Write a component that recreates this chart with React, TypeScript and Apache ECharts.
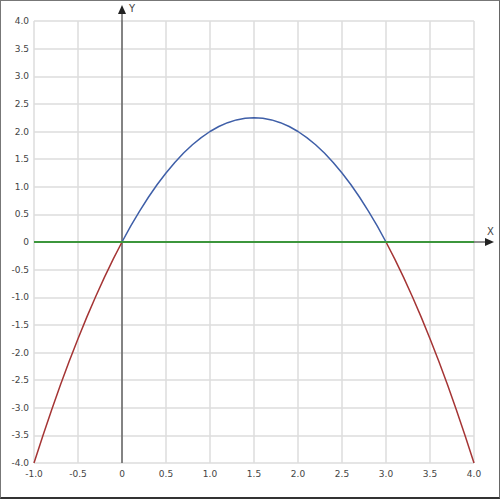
import { useEffect, useRef } from "react";
import * as echarts from "echarts";

const BLUE = "#3f5fa8";
const RED = "#a53535";
const GREEN = "#3c963c";
const GRID = "#dddddd";

const LEFT_X = [-1, -0.9, -0.8, -0.7, -0.6, -0.5, -0.4, -0.3, -0.2, -0.1, 0];
const LEFT_Y = [-4, -3.51, -3.04, -2.59, -2.16, -1.75, -1.36, -0.99, -0.64, -0.31, 0];
const MID_X = [0, 0.1, 0.2, 0.3, 0.4, 0.5, 0.6, 0.7, 0.8, 0.9, 1, 1.1, 1.2, 1.3, 1.4, 1.5,
  1.6, 1.7, 1.8, 1.9, 2, 2.1, 2.2, 2.3, 2.4, 2.5, 2.6, 2.7, 2.8, 2.9, 3];
const MID_Y = [0, 0.29, 0.56, 0.81, 1.04, 1.25, 1.44, 1.61, 1.76, 1.89, 2, 2.09, 2.16, 2.21, 2.24, 2.25,
  2.24, 2.21, 2.16, 2.09, 2, 1.89, 1.76, 1.61, 1.44, 1.25, 1.04, 0.81, 0.56, 0.29, 0];
const RIGHT_X = [3, 3.1, 3.2, 3.3, 3.4, 3.5, 3.6, 3.7, 3.8, 3.9, 4];
const RIGHT_Y = [0, -0.31, -0.64, -0.99, -1.36, -1.75, -2.16, -2.59, -3.04, -3.51, -4];
const ZERO_X = [-1, 4];
const ZERO_Y = [0, 0];

const X_MIN = -1, X_MAX = 4, Y_MIN = -4, Y_MAX = 4, STEP = 0.5;

const zip = (xs: number[], ys: number[]) => xs.map((x, i) => [x, ys[i]]);
const fmt = (v: number) => (v === 0 ? "0" : v.toFixed(1));

export default function App() {
  const ref = useRef<HTMLDivElement>(null);

  useEffect(() => {
    if (!ref.current) return;
    const inst = echarts.init(ref.current, undefined, { renderer: "svg" });
    const curve = (data: number[][], color: string) => ({
      type: "line", data, smooth: false, showSymbol: false, symbol: "none",
      lineStyle: { color, width: 1.5 }, z: 3,
    });
    inst.setOption({
      animation: false,
      backgroundColor: "#fff",
      grid: { left: 34, right: 26, top: 21, bottom: 36 },
      xAxis: {
        type: "value", min: X_MIN, max: X_MAX, interval: STEP,
        axisLine: { show: false }, axisTick: { show: false },
        axisLabel: { color: "#444", fontSize: 9, fontFamily: "DejaVu Sans", margin: 6, formatter: fmt, showMinLabel: true, showMaxLabel: true },
        splitLine: { lineStyle: { color: GRID, width: 1.5 } },
      },
      yAxis: {
        type: "value", min: Y_MIN, max: Y_MAX, interval: STEP,
        axisLine: { show: false }, axisTick: { show: false },
        axisLabel: { color: "#444", fontSize: 9, fontFamily: "DejaVu Sans", margin: 5, formatter: fmt, showMinLabel: true, showMaxLabel: true },
        splitLine: { lineStyle: { color: GRID, width: 1.5 } },
      },
      series: [
        curve(zip(LEFT_X, LEFT_Y), RED),
        curve(zip(MID_X, MID_Y), BLUE),
        curve(zip(RIGHT_X, RIGHT_Y), RED),
        { type: "line", data: zip(ZERO_X, ZERO_Y), showSymbol: false, symbol: "none", lineStyle: { color: GREEN, width: 2 }, z: 4 },
      ],
    });

    // axes through the origin, with arrows running past the plot
    const [ox, oy] = inst.convertToPixel({ gridIndex: 0 }, [0, 0]) as number[];
    const [lx, by] = inst.convertToPixel({ gridIndex: 0 }, [X_MIN, Y_MIN]) as number[];
    const [rx, ty] = inst.convertToPixel({ gridIndex: 0 }, [X_MAX, Y_MAX]) as number[];
    const ax = "#222";
    const yTip = ty - 16, xTip = rx + 20;
    inst.setOption({
      graphic: [
        { type: "line", z: 2, shape: { x1: ox, y1: by, x2: ox, y2: yTip + 6 }, style: { stroke: ax, lineWidth: 1 } },
        { type: "polygon", z: 2, shape: { points: [[ox, yTip], [ox - 4, yTip + 9], [ox + 4, yTip + 9]] }, style: { fill: ax } },
        { type: "line", z: 1, shape: { x1: lx, y1: oy, x2: xTip - 6, y2: oy }, style: { stroke: ax, lineWidth: 1 } },
        { type: "polygon", z: 2, shape: { points: [[xTip, oy], [xTip - 9, oy - 4], [xTip - 9, oy + 4]] }, style: { fill: ax } },
        { type: "text", z: 2, x: ox + 7, y: yTip - 2, style: { text: "Y", fill: "#444", font: "10px DejaVu Sans" } },
        { type: "text", z: 2, x: xTip - 7, y: oy - 16, style: { text: "X", fill: "#444", font: "10px DejaVu Sans" } },
      ],
    });
    return () => inst.dispose();
  }, []);

  return (
    <div style={{ position: "fixed", left: 0, top: 0, width: 500, height: 499, background: "#fff" }}>
      <div ref={ref} style={{ width: 500, height: 499 }} />
      <div style={{
        position: "absolute", left: 0, top: 0, width: 500, height: 499, boxSizing: "border-box",
        borderTop: "1px solid #777", borderLeft: "1px solid #777", borderRight: "1px solid #666",
        borderBottom: "2px solid #333", pointerEvents: "none",
      }} />
    </div>
  );
}
